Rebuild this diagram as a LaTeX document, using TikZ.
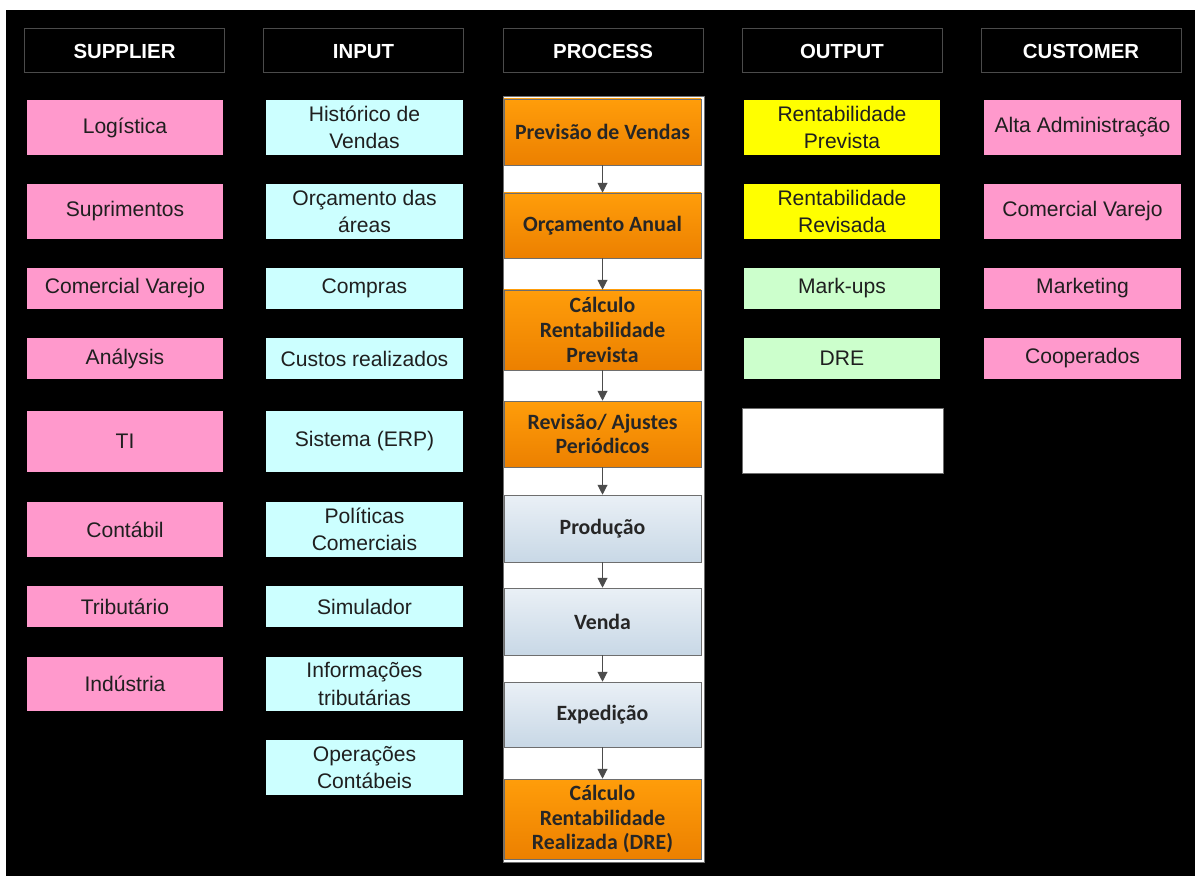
\documentclass[tikz,border=0pt]{standalone}
\usepackage{fontspec}
\setmainfont{Liberation Sans}
\newfontfamily\procfont{Carlito}
\usetikzlibrary{arrows.meta}

\definecolor{suppink}{RGB}{255,153,204}
\definecolor{incyan}{RGB}{204,255,255}
\definecolor{outyellow}{RGB}{255,255,0}
\definecolor{outgreen}{RGB}{204,255,204}
\definecolor{orangetop}{RGB}{255,157,10}
\definecolor{orangebot}{RGB}{236,128,0}
\definecolor{bluetop}{RGB}{234,240,246}
\definecolor{bluebot}{RGB}{200,216,230}
\definecolor{framegray}{RGB}{110,110,110}
\definecolor{headgray}{RGB}{75,75,75}

\tikzset{
  head/.style={draw=headgray, fill=black, text=white, inner sep=0pt,
    minimum width=5cm, minimum height=1.1cm,
    text height=2.2ex, text depth=0pt,
    font=\fontsize{14.5}{17}\selectfont\bfseries},
  cell/.style={fill=#1, text=black!88, align=center, inner sep=0pt,
    minimum width=4.9cm, font=\fontsize{15}{19.5}\selectfont},
  proc/.style={draw=framegray, top color=#1top, bottom color=#1bot,
    text=black!85, align=center, inner sep=0pt, minimum width=4.925cm,
    font=\procfont\fontsize{15.5}{17.5}\selectfont\bfseries},
  flow/.style={draw=black!70, line width=0.8pt, -{Triangle[length=7pt,width=7pt]}}
}

\begin{document}
\begin{tikzpicture}[x=0.025cm, y=-0.025cm]
		
		\useasboundingbox (0,0) rectangle (1195,876) ;
		\fill[white] (0,0) rectangle (1195,876) ;
		\fill[black] (6,10) rectangle (1195,876) ;
		
		\node[head] (hsupplier) at (124.5,50) {SUPPLIER} ;
		\node[head] (hinput) at (363.5,50) {INPUT} ;
		\node[head] (hprocess) at (603,50) {PROCESS} ;
		\node[head] (houtput) at (842,50) {OUTPUT} ;
		\node[head] (hcustomer) at (1081,50) {CUSTOMER} ;
		
		\node[cell=suppink, minimum height=1.375cm] (sup1) at (125,127.5) {Logística} ;
		\node[cell=suppink, minimum height=1.375cm] (sup2) at (125,211.5) {Suprimentos} ;
		\node[cell=suppink, minimum height=1.025cm] (sup3) at (125,288.5) {Comercial Varejo} ;
		\node[cell=suppink, minimum height=1.025cm] (sup4) at (125,358.5) {Análysis} ;
		\node[cell=suppink, minimum height=1.525cm] (sup5) at (125,441.5) {TI} ;
		\node[cell=suppink, minimum height=1.375cm] (sup6) at (125,529.5) {Contábil} ;
		\node[cell=suppink, minimum height=1.025cm] (sup7) at (125,606.5) {Tributário} ;
		\node[cell=suppink, minimum height=1.35cm] (sup8) at (125,684) {Indústria} ;
		
		\node[cell=incyan, minimum height=1.375cm] (in1) at (364.5,127.5) {Histórico de\\Vendas} ;
		\node[cell=incyan, minimum height=1.375cm] (in2) at (364.5,211.5) {Orçamento das\\áreas} ;
		\node[cell=incyan, minimum height=1.025cm] (in3) at (364.5,288.5) {Compras} ;
		\node[cell=incyan, minimum height=1.025cm] (in4) at (364.5,358.5) {Custos realizados} ;
		\node[cell=incyan, minimum height=1.525cm] (in5) at (364.5,441.5) {Sistema (ERP)} ;
		\node[cell=incyan, minimum height=1.375cm] (in6) at (364.5,529.5) {Políticas\\Comerciais} ;
		\node[cell=incyan, minimum height=1.025cm] (in7) at (364.5,606.5) {Simulador} ;
		\node[cell=incyan, minimum height=1.35cm] (in8) at (364.5,684) {Informações\\tributárias} ;
		\node[cell=incyan, minimum height=1.375cm] (in9) at (364.5,767.5) {Operações\\Contábeis} ;
		
		\draw[framegray, fill=white] (503,96) rectangle (704,862) ;
		\node[proc=orange, minimum height=1.65cm] (p1) at (602.5,132) {Previsão de Vendas} ;
		\node[proc=orange, minimum height=1.625cm] (p2) at (602.5,225.5) {Orçamento Anual} ;
		\node[proc=orange, minimum height=2cm] (p3) at (602.5,330) {Cálculo\\Rentabilidade\\Prevista} ;
		\node[proc=orange, minimum height=1.65cm] (p4) at (602.5,434) {Revisão/ Ajustes\\Periódicos} ;
		\node[proc=blue, minimum height=1.675cm] (p5) at (602.5,528.5) {Produção} ;
		\node[proc=blue, minimum height=1.675cm] (p6) at (602.5,621.5) {Venda} ;
		\node[proc=blue, minimum height=1.625cm] (p7) at (602.5,714.5) {Expedição} ;
		\node[proc=orange, minimum height=2cm] (p8) at (602.5,819) {Cálculo\\Rentabilidade\\Realizada (DRE)} ;
		
		\foreach \a/\b in {p1/p2,p2/p3,p3/p4,p4/p5,p5/p6,p6/p7,p7/p8}
			\draw[flow] (\a) -- (\b) ;
		
		\node[cell=outyellow, minimum height=1.375cm] (out1) at (842,127.5) {Rentabilidade\\Prevista} ;
		\node[cell=outyellow, minimum height=1.375cm] (out2) at (842,211.5) {Rentabilidade\\Revisada} ;
		\node[cell=outgreen, minimum height=1.025cm] (out3) at (842,288.5) {Mark-ups} ;
		\node[cell=outgreen, minimum height=1.025cm] (out4) at (842,358.5) {DRE} ;
		\node[cell=white, draw=framegray, minimum width=5.025cm, minimum height=1.625cm] (out5) at (842.5,441) {} ;
		
		\node[cell=suppink, minimum height=1.375cm] (cus1) at (1082.5,127.5) {Alta Administração} ;
		\node[cell=suppink, minimum height=1.375cm] (cus2) at (1082.5,211.5) {Comercial Varejo} ;
		\node[cell=suppink, minimum height=1.025cm] (cus3) at (1082.5,288.5) {Marketing} ;
		\node[cell=suppink, minimum height=1.025cm] (cus4) at (1082.5,358.5) {Cooperados} ;
	\end{tikzpicture}
\end{document}
